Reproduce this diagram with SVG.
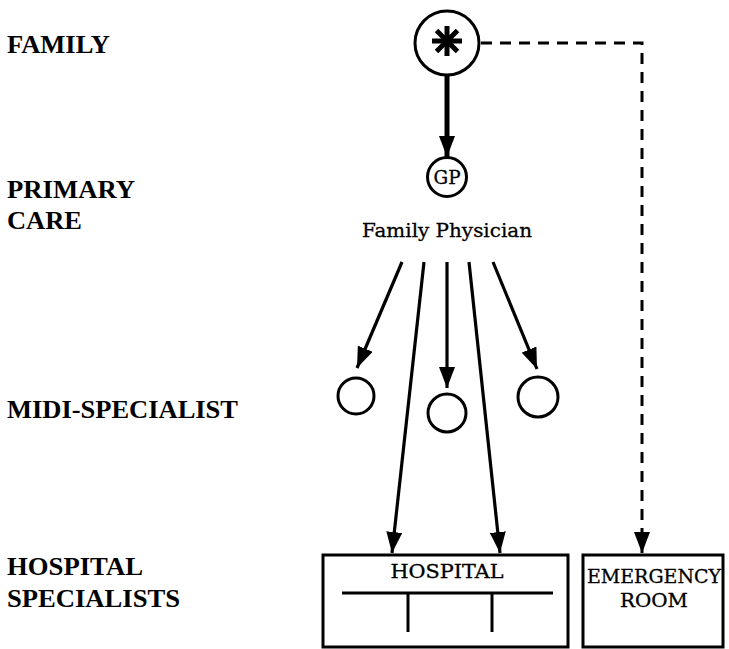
<svg xmlns="http://www.w3.org/2000/svg" width="729" height="649" viewBox="0 0 729 649">
  <style>
    .lvl { font-family: "Liberation Serif", "Times New Roman", serif; font-weight: bold; font-size: 25px; fill: #000; }
    .lbl { font-family: "DejaVu Serif", "Liberation Serif", serif; fill: #000; stroke: #000; stroke-width: 0.3; }
    .ring { fill: #fff; stroke: #000; stroke-width: 3; }
    .box { fill: #fff; stroke: #000; stroke-width: 3; }
    .edge { fill: none; stroke: #000; stroke-width: 3.2; }
    .thick { fill: none; stroke: #000; stroke-width: 5; }
    .dash { fill: none; stroke: #000; stroke-width: 3; stroke-dasharray: 11 8; }
  </style>
  <defs>
    <marker id="head" viewBox="0 0 21 16" refX="21" refY="8" markerWidth="21" markerHeight="16" markerUnits="userSpaceOnUse" orient="auto">
      <path d="M0,0 L21,8 L0,16 Z" fill="#000"/>
    </marker>
  </defs>
  <rect width="729" height="649" fill="#fff"/>

  <!-- level labels -->
  <g id="levels">
    <text class="lvl" x="7" y="53" textLength="103" lengthAdjust="spacingAndGlyphs">FAMILY</text>
    <text class="lvl" x="7" y="198" textLength="128" lengthAdjust="spacingAndGlyphs">PRIMARY</text>
    <text class="lvl" x="7" y="229" textLength="75" lengthAdjust="spacingAndGlyphs">CARE</text>
    <text class="lvl" x="7" y="418" textLength="231" lengthAdjust="spacingAndGlyphs">MIDI-SPECIALIST</text>
    <text class="lvl" x="7" y="575" textLength="136" lengthAdjust="spacingAndGlyphs">HOSPITAL</text>
    <text class="lvl" x="7" y="607" textLength="173" lengthAdjust="spacingAndGlyphs">SPECIALISTS</text>
  </g>

  <!-- connectors -->
  <g id="connectors">
    <line class="thick" x1="447" y1="75" x2="447" y2="157" marker-end="url(#head)"/>
    <polyline class="dash" points="481,43 642,43 642,553" marker-end="url(#head)"/>
    <line class="edge" x1="402" y1="262" x2="357" y2="368" marker-end="url(#head)"/>
    <line class="edge" x1="424" y1="262" x2="392" y2="553" marker-end="url(#head)"/>
    <line class="edge" x1="447" y1="262" x2="447" y2="388" marker-end="url(#head)"/>
    <line class="edge" x1="469" y1="262" x2="500" y2="553" marker-end="url(#head)"/>
    <line class="edge" x1="493" y1="262" x2="537" y2="369" marker-end="url(#head)"/>
  </g>

  <!-- family node -->
  <g id="family">
    <circle class="ring" cx="447" cy="43" r="32"/>
    <g stroke="#000" stroke-width="5" stroke-linecap="butt">
      <line x1="447" y1="26" x2="447" y2="56"/>
      <line x1="432" y1="41" x2="462" y2="41"/>
      <line x1="436.5" y1="30.5" x2="457.5" y2="51.5"/>
      <line x1="457.5" y1="30.5" x2="436.5" y2="51.5"/>
    </g>
  </g>

  <!-- general practitioner -->
  <g id="gp">
    <circle class="ring" cx="447" cy="177" r="19.5"/>
    <text class="lbl" x="447" y="183.5" font-size="18.5" text-anchor="middle" textLength="27" lengthAdjust="spacingAndGlyphs">GP</text>
    <text class="lbl" x="447" y="237" font-size="19" text-anchor="middle" textLength="170" lengthAdjust="spacingAndGlyphs">Family Physician</text>
  </g>

  <!-- midi-specialists -->
  <g id="midi-left"><circle class="ring" cx="356" cy="396" r="18"/></g>
  <g id="midi-centre"><circle class="ring" cx="447" cy="413" r="19"/></g>
  <g id="midi-right"><circle class="ring" cx="538" cy="397" r="20"/></g>

  <!-- hospital -->
  <g id="hospital">
    <rect class="box" x="323" y="555" width="245" height="92"/>
    <text class="lbl" x="447" y="578" font-size="18" text-anchor="middle" textLength="113" lengthAdjust="spacingAndGlyphs">HOSPITAL</text>
    <line x1="342" y1="593" x2="553" y2="593" stroke="#000" stroke-width="3"/>
    <line x1="408" y1="593" x2="408" y2="632" stroke="#000" stroke-width="3"/>
    <line x1="492" y1="593" x2="492" y2="632" stroke="#000" stroke-width="3"/>
  </g>

  <!-- emergency room -->
  <g id="emergency">
    <rect class="box" x="583" y="555" width="140" height="92"/>
    <text class="lbl" x="654" y="583" font-size="18" text-anchor="middle" textLength="134" lengthAdjust="spacingAndGlyphs">EMERGENCY</text>
    <text class="lbl" x="654" y="607" font-size="18" text-anchor="middle" textLength="68" lengthAdjust="spacingAndGlyphs">ROOM</text>
  </g>
</svg>
